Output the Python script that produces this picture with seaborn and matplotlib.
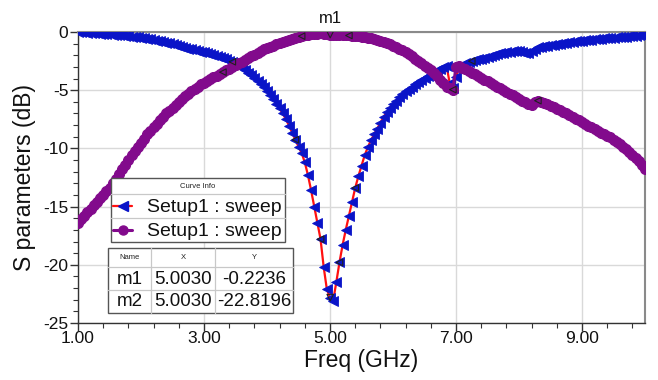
import numpy as np
import pandas as pd
import matplotlib
matplotlib.use("Agg")
import matplotlib.pyplot as plt
import seaborn as sns
from matplotlib.lines import Line2D
from matplotlib.patches import Rectangle
from matplotlib.ticker import MultipleLocator, FixedLocator

# ---------------- data ----------------
freq = np.round(np.arange(1.0, 10.0001, 0.05), 2)

s11 = [
    0.00, -0.02, -0.04, -0.06, -0.08, -0.10, -0.12, -0.14, -0.16, -0.18,   # 1.00-1.45
    -0.20, -0.22, -0.25, -0.27, -0.30, -0.33, -0.36, -0.40, -0.43, -0.47,  # 1.50-1.95
    -0.50, -0.54, -0.58, -0.63, -0.68, -0.74, -0.80, -0.86, -0.92, -0.98,  # 2.00-2.45
    -1.05, -1.12, -1.19, -1.26, -1.34, -1.42, -1.50, -1.58, -1.64, -1.70,  # 2.50-2.95
    -1.75, -1.82, -1.90, -1.98, -2.07, -2.16, -2.25, -2.35, -2.45, -2.56,  # 3.00-3.45
    -2.70, -2.85, -3.05, -3.25, -3.48, -3.70, -3.95, -4.20, -4.45, -4.75,  # 3.50-3.95
    -5.05, -5.40, -5.75, -6.15, -6.55, -7.00, -7.50, -8.05, -8.65, -9.25,  # 4.00-4.45
    -9.85, -10.4, -11.2, -12.3, -13.6, -15.0, -16.4, -17.8, -20.2, -22.1,  # 4.50-4.95
    -22.82, -23.1, -21.5, -19.8, -18.3, -17.0, -15.8, -14.6, -13.4, -12.4, # 5.00-5.45
    -11.5, -10.6, -9.9, -9.3, -8.8, -8.3, -7.8, -7.3, -6.9, -6.5,          # 5.50-5.95
    -6.2, -5.9, -5.6, -5.35, -5.1, -4.9, -4.7, -4.5, -4.3, -4.1,           # 6.00-6.45
    -3.95, -3.8, -3.6, -3.45, -3.3, -3.15, -3.0, -2.9, -4.4, -4.8,         # 6.50-6.95
    -3.9, -3.0, -2.8, -2.7, -2.6, -2.5, -2.42, -2.35, -2.28, -2.2,         # 7.00-7.45
    -2.12, -2.05, -1.98, -1.9, -1.84, -1.78, -1.72, -1.68, -1.64, -1.62,   # 7.50-7.95
    -1.65, -1.70, -1.78, -1.82, -1.65, -1.45, -1.30, -1.25, -1.20, -1.16,  # 8.00-8.45
    -1.12, -1.08, -1.03, -0.99, -0.95, -0.91, -0.87, -0.83, -0.80, -0.77,  # 8.50-8.95
    -0.74, -0.71, -0.68, -0.65, -0.62, -0.60, -0.57, -0.55, -0.52, -0.50,  # 9.00-9.45
    -0.48, -0.45, -0.43, -0.41, -0.39, -0.37, -0.34, -0.32, -0.30, -0.28,  # 9.50-9.95
    -0.26,                                                                 # 10.00
]

s21 = [
    -16.4, -16.1, -15.8, -15.5, -15.2, -14.9, -14.6, -14.3, -14.0, -13.7,  # 1.00-1.45
    -13.4, -13.0, -12.6, -12.2, -11.8, -11.4, -11.0, -10.6, -10.2, -9.85,  # 1.50-1.95
    -9.5, -9.15, -8.8, -8.5, -8.2, -7.9, -7.6, -7.3, -7.0, -6.75,          # 2.00-2.45
    -6.5, -6.25, -6.0, -5.75, -5.5, -5.3, -5.1, -4.9, -4.7, -4.5,          # 2.50-2.95
    -4.35, -4.2, -4.05, -3.9, -3.75, -3.6, -3.45, -3.3, -3.15, -3.0,       # 3.00-3.45
    -2.85, -2.7, -2.55, -2.4, -2.25, -2.1, -1.95, -1.8, -1.65, -1.5,       # 3.50-3.95
    -1.4, -1.28, -1.16, -1.05, -0.95, -0.85, -0.76, -0.67, -0.58, -0.5,    # 4.00-4.45
    -0.43, -0.36, -0.3, -0.25, -0.2, -0.16, -0.13, -0.12, -0.13, -0.17,    # 4.50-4.95
    -0.22, -0.24, -0.25, -0.26, -0.27, -0.28, -0.3, -0.32, -0.34, -0.37,   # 5.00-5.45
    -0.4, -0.44, -0.48, -0.53, -0.59, -0.66, -0.74, -0.83, -0.93, -1.04,   # 5.50-5.95
    -1.16, -1.29, -1.43, -1.58, -1.74, -1.91, -2.09, -2.28, -2.48, -2.68,  # 6.00-6.45
    -2.88, -3.08, -3.3, -3.55, -3.8, -4.1, -4.4, -4.7, -4.85, -4.95,       # 6.50-6.95
    -3.0, -2.9, -3.05, -3.2, -3.35, -3.5, -3.65, -3.8, -3.95, -4.1,        # 7.00-7.45
    -4.25, -4.4, -4.55, -4.7, -4.85, -5.0, -5.15, -5.3, -5.45, -5.6,       # 7.50-7.95
    -5.75, -5.9, -6.05, -6.2, -6.3, -6.0, -5.9, -6.0, -6.1, -6.2,          # 8.00-8.45
    -6.35, -6.45, -6.6, -6.7, -6.85, -7.0, -7.15, -7.3, -7.45, -7.6,       # 8.50-8.95
    -7.75, -7.9, -8.05, -8.2, -8.35, -8.5, -8.65, -8.8, -8.9, -9.05,       # 9.00-9.45
    -9.25, -9.45, -9.65, -9.85, -10.05, -10.3, -10.55, -10.8, -11.1, -11.4, # 9.50-9.95
    -11.8,                                                                 # 10.00
]

x_ticks = [1.0, 3.0, 5.0, 7.0, 9.0]
x_tick_labels = ["1.00", "3.00", "5.00", "7.00", "9.00"]
y_ticks = [-25, -20, -15, -10, -5, 0]

legend_labels = ["Setup1 : sweep", "Setup1 : sweep"]
marker_names = ["m1", "m2"]
marker_x = [5.0030, 5.0030]
marker_y = [-0.2236, -22.8196]

# frequencies at which the small hollow "symbol" markers sit on each trace
s11_symbol_freqs = [3.45, 4.45, 4.85, 5.15, 5.40, 7.25]
s21_symbol_freqs = [3.30, 4.55, 5.30, 6.95, 8.30]

df = pd.DataFrame({"freq": freq, "s11": s11, "s21": s21})

# ---------------- style ----------------
sns.set_style("ticks")
plt.rcParams["font.family"] = ["Liberation Sans", "DejaVu Sans"]
plt.rcParams["axes.unicode_minus"] = False

W, H = 658, 380
fig = plt.figure(figsize=(W / 100, H / 100), dpi=100)
ax = fig.add_axes([78 / W, 1 - 323 / H, (645 - 78) / W, (323 - 32) / H])

BLUE = "#0a14c8"
RED = "#ff1010"
PURPLE = "#820a8c"

sns.lineplot(data=df, x="freq", y="s11", ax=ax, color=RED, lw=1.6,
             marker="<", markersize=7.5, markerfacecolor=BLUE,
             markeredgecolor=BLUE, markeredgewidth=0.6, sort=False,
             estimator=None, zorder=3)
sns.lineplot(data=df, x="freq", y="s21", ax=ax, color=PURPLE, lw=2.2,
             marker="o", markersize=7.2, markerfacecolor=PURPLE,
             markeredgecolor=PURPLE, sort=False, estimator=None, zorder=4)

idx11 = [int(np.argmin(np.abs(freq - f))) for f in s11_symbol_freqs]
idx21 = [int(np.argmin(np.abs(freq - f))) for f in s21_symbol_freqs]
ax.scatter(freq[idx11], np.array(s11)[idx11], marker="<", s=22,
           facecolors="none", edgecolors="#202020", linewidths=0.8, zorder=6)
ax.scatter(freq[idx21], np.array(s21)[idx21], marker="<", s=22,
           facecolors="none", edgecolors="#202020", linewidths=0.8, zorder=6)

# m1 / m2 markers
ax.scatter(marker_x, marker_y, marker="v", s=22, facecolors="none",
           edgecolors="#202020", linewidths=0.8, zorder=7)
ax.annotate(marker_names[0], (marker_x[0], marker_y[0]), xytext=(0, 6),
            textcoords="offset points", ha="center", va="bottom",
            fontsize=12, color="#111111", annotation_clip=False)

ax.set_xlim(1.0, 10.0)
ax.set_ylim(-25, 0)
ax.xaxis.set_major_locator(FixedLocator(x_ticks))
ax.set_xticklabels(x_tick_labels)
ax.xaxis.set_minor_locator(FixedLocator(np.round(np.arange(1.0, 10.001, 0.4), 2)))
ax.yaxis.set_major_locator(FixedLocator(y_ticks))
ax.yaxis.set_minor_locator(MultipleLocator(1))
ax.grid(True, which="major", color="#d9d9d9", lw=1.0)
ax.set_axisbelow(True)

ax.tick_params(axis="both", which="major", direction="out", length=6,
               width=1, color="#333333", labelsize=12.5, labelcolor="#111111",
               pad=1)
ax.tick_params(axis="both", which="minor", direction="out", length=3.5,
               width=0.8, color="#333333")
ax.tick_params(axis="x", which="major", pad=0)

for side in ["left", "bottom"]:
    ax.spines[side].set_color("#333333")
    ax.spines[side].set_linewidth(1.0)
for side in ["top", "right"]:
    ax.spines[side].set_color("#8a8a8a")
    ax.spines[side].set_linewidth(1.5)

ax.set_xlabel("Freq (GHz)", fontsize=16.5, color="#111111", labelpad=2)
ax.set_ylabel("S parameters (dB)", fontsize=16.5, color="#111111", labelpad=5)


# ---------------- legend and marker table (figure pixel coords) -------------
def fx(px):
    return px / W


def fy(py):
    return 1 - py / H


def box(x0, y0, x1, y1):
    fig.add_artist(Rectangle((fx(x0), fy(y1)), fx(x1) - fx(x0), fy(y0) - fy(y1),
                             transform=fig.transFigure, facecolor="white",
                             edgecolor="#555555", lw=1.0, zorder=10))


def hline(x0, x1, y, color="#c8c8c8"):
    fig.add_artist(Line2D([fx(x0), fx(x1)], [fy(y), fy(y)],
                          transform=fig.transFigure, color=color, lw=0.9,
                          zorder=11))


def vline(x, y0, y1, color="#c8c8c8"):
    fig.add_artist(Line2D([fx(x), fx(x)], [fy(y0), fy(y1)],
                          transform=fig.transFigure, color=color, lw=0.9,
                          zorder=11))


# Curve info box
box(111, 178, 285, 242)
hline(111, 285, 194)
hline(111, 285, 218)
fig.text(fx(198), fy(186.5), "Curve Info", ha="center", va="center",
         fontsize=5.5, color="#222222", zorder=12)
legend_specs = [(RED, "<", BLUE, 1.6, 7), (PURPLE, "o", PURPLE, 2.2, 6.5)]
for i, (lab, (lc, mk, mc, lw, ms)) in enumerate(zip(legend_labels, legend_specs)):
    yc = 206 + 24 * i
    fig.add_artist(Line2D([fx(113), fx(132)], [fy(yc), fy(yc)],
                          transform=fig.transFigure, color=lc, lw=lw,
                          zorder=12))
    fig.add_artist(Line2D([fx(123)], [fy(yc)], transform=fig.transFigure,
                          marker=mk, markersize=ms, markerfacecolor=mc,
                          markeredgecolor=mc, lw=0, zorder=13))
    fig.text(fx(147), fy(yc + 1), lab, ha="left", va="center", fontsize=14,
             color="#111111", zorder=12)

# marker table
box(108, 248, 293, 313)
hline(108, 293, 267)
hline(108, 293, 290)
vline(151, 248, 313)
vline(215, 248, 313)
col_c = [129.5, 183, 254]
for txt, xc in zip(["Name", "X", "Y"], col_c):
    fig.text(fx(xc), fy(257.5), txt, ha="center", va="center", fontsize=5.5,
             color="#222222", zorder=12)
for i in range(2):
    yc = 279 + 23 * i
    row = [marker_names[i], f"{marker_x[i]:.4f}", f"{marker_y[i]:.4f}"]
    for txt, xc in zip(row, col_c):
        fig.text(fx(xc), fy(yc), txt, ha="center", va="center",
                 fontsize=13.5, color="#111111", zorder=12)

fig.savefig("out.png", dpi=100)
